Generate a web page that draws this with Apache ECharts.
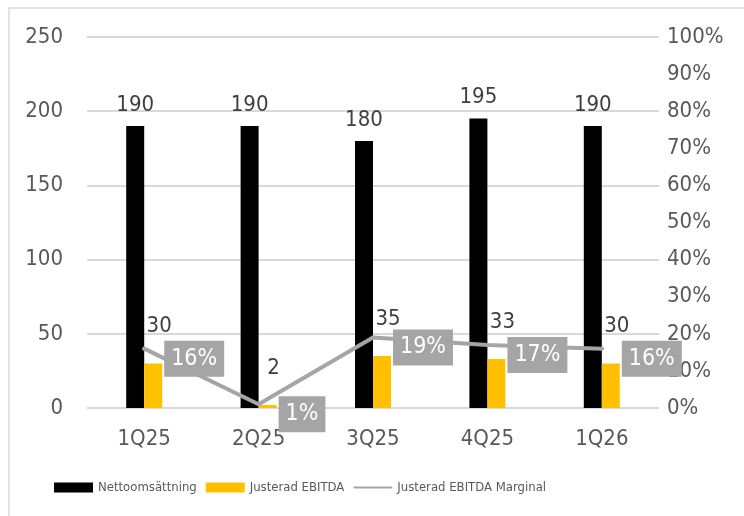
<!DOCTYPE html>
<html>
<head>
<meta charset="utf-8">
<script src="https://cdn.jsdelivr.net/npm/echarts@6/dist/echarts.min.js"></script>
<style>
  html, body { margin: 0; padding: 0; background: #fff; }
  #chart { width: 744px; height: 516px; }
</style>
</head>
<body>
<div id="chart"></div>
<script>
// data
const quarters = ['1Q25', '2Q25', '3Q25', '4Q25', '1Q26'];
const netSales = [190, 190, 180, 195, 190];
const adjEbitda = [30, 2, 35, 33, 30];
const ebitdaMargin = [16, 1, 19, 17, 16]; // procent

const FONT = "'DejaVu Sans Condensed', sans-serif";
const TEXT = '#595959';

const chart = echarts.init(document.getElementById('chart'));

chart.setOption({
  animation: false,
  textStyle: { fontFamily: FONT },
  // ram runt diagrammet (bara topp + vänster syns i bilden)
  graphic: [{
    type: 'rect',
    shape: { x: 9, y: 8, width: 900, height: 700 },
    style: { fill: 'none', stroke: '#d9d9d9', lineWidth: 1.5 },
    silent: true
  }],
  grid: { left: 87, right: 85, top: 37, bottom: 108 },
  legend: {
    left: 54,
    top: 481,
    padding: 0,
    itemWidth: 39,
    itemHeight: 10,
    itemGap: 9,
    textStyle: { color: TEXT, fontSize: 13, fontFamily: FONT },
    data: [
      { name: 'Nettoomsättning', icon: 'rect' },
      { name: 'Justerad EBITDA', icon: 'rect' },
      { name: 'Justerad EBITDA Marginal', icon: 'path://M2,0 L78,0 A2,2 0 0 1 78,4 L2,4 A2,2 0 0 1 2,0 Z' }
    ]
  },
  xAxis: {
    type: 'category',
    data: quarters,
    axisLine: { show: false },
    axisTick: { show: false },
    axisLabel: { color: TEXT, fontSize: 22, margin: 20 }
  },
  yAxis: [{
    type: 'value',
    min: 0, max: 250, interval: 50,
    axisLabel: { color: TEXT, fontSize: 22, margin: 24 },
    splitLine: { lineStyle: { color: '#d9d9d9', width: 2 } }
  }, {
    type: 'value',
    min: 0, max: 100, interval: 10,
    axisLabel: { color: TEXT, fontSize: 22, margin: 8, formatter: '{value}%' },
    splitLine: { show: false }
  }],
  series: [{
    name: 'Nettoomsättning',
    type: 'bar',
    data: netSales,
    barWidth: 18,
    barGap: '0%',
    itemStyle: { color: '#000000' },
    label: { show: true, position: 'top', distance: 10, color: '#404040', fontSize: 22 }
  }, {
    name: 'Justerad EBITDA',
    type: 'bar',
    data: adjEbitda,
    barWidth: 18,
    itemStyle: { color: '#FFC000' },
    label: { show: true, position: 'top', distance: 26, offset: [6, 0], color: '#404040', fontSize: 22 }
  }, {
    name: 'Justerad EBITDA Marginal',
    type: 'line',
    yAxisIndex: 1,
    data: ebitdaMargin,
    symbol: 'circle',
    symbolSize: 4,
    showSymbol: true,
    z: 5,
    lineStyle: { color: '#A5A5A5', width: 4, cap: 'round' },
    itemStyle: { color: '#A5A5A5' },
    label: {
      show: true,
      position: 'right',
      distance: 18,
      offset: [0, 10],
      formatter: '{c}%',
      color: '#ffffff',
      fontSize: 23,
      backgroundColor: '#A5A5A5',
      padding: [7, 7, 6, 7]
    }
  }]
});
</script>
</body>
</html>
